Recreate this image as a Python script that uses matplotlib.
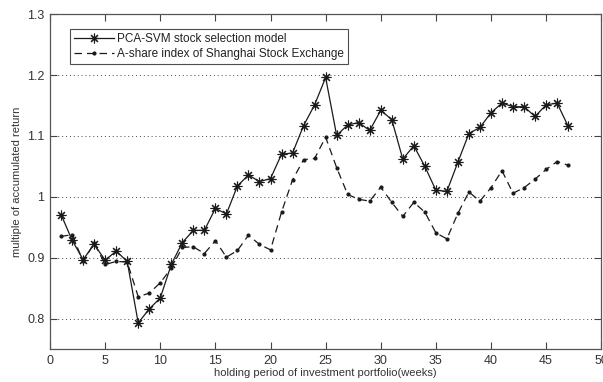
import matplotlib
matplotlib.use('Agg')
import matplotlib.pyplot as plt

weeks = list(range(1, 48))

pca_svm = [0.971, 0.929, 0.897, 0.922, 0.896, 0.911, 0.894, 0.793, 0.816, 0.834,
           0.889, 0.925, 0.945, 0.945, 0.981, 0.972, 1.018, 1.036, 1.025, 1.030,
           1.070, 1.072, 1.117, 1.151, 1.196, 1.101, 1.118, 1.122, 1.109, 1.142,
           1.127, 1.062, 1.084, 1.050, 1.011, 1.009, 1.057, 1.104, 1.114, 1.138,
           1.154, 1.148, 1.148, 1.132, 1.151, 1.154, 1.116]

sh_index = [0.935, 0.938, 0.894, 0.924, 0.889, 0.894, 0.893, 0.836, 0.842, 0.859,
            0.883, 0.917, 0.918, 0.907, 0.928, 0.901, 0.912, 0.937, 0.922, 0.913,
            0.975, 1.028, 1.061, 1.063, 1.098, 1.048, 1.004, 0.996, 0.993, 1.016,
            0.991, 0.968, 0.991, 0.975, 0.941, 0.931, 0.973, 1.008, 0.993, 1.015,
            1.043, 1.006, 1.015, 1.029, 1.045, 1.058, 1.052]

x_ticks = [0, 5, 10, 15, 20, 25, 30, 35, 40, 45, 50]
y_ticks = [0.8, 0.9, 1.0, 1.1, 1.2, 1.3]
y_tick_labels = ['0.8', '0.9', '1', '1.1', '1.2', '1.3']

plt.rcParams['font.family'] = ['Liberation Sans', 'DejaVu Sans']

fig = plt.figure(figsize=(6.03, 3.82), dpi=100)
ax = fig.add_axes([0.083, 0.086, 0.914, 0.877])

line_col = '#1a1a1a'
# matlab-style '*' marker: 8 spokes
ax.plot(weeks, pca_svm, color=line_col, linewidth=0.9, linestyle='-',
        marker=(8, 2, 0), markersize=7, markeredgewidth=0.8,
        label='PCA-SVM stock selection model')
ax.plot(weeks, sh_index, color=line_col, linewidth=0.9, linestyle=(0, (6, 4)),
        marker='.', markersize=4,
        label='A-share index of Shanghai Stock Exchange')

ax.set_xlim(0, 50)
ax.set_ylim(0.75, 1.3)
ax.set_xticks(x_ticks)
ax.set_yticks(y_ticks)
ax.set_yticklabels(y_tick_labels)

ax.yaxis.grid(True, linestyle=(0, (1, 3)), color='#444444', linewidth=0.7)
ax.tick_params(direction='in', top=True, right=True, length=5, width=0.8,
               labelsize=9, colors='#444444', labelcolor='#333333', pad=4)
for s in ax.spines.values():
    s.set_color('#555555')
    s.set_linewidth(0.9)

ax.set_xlabel('holding period of investment portfolio(weeks)', fontsize=8,
              color='#333333', labelpad=1)
ax.set_ylabel('multiple of accumulated return', fontsize=8, color='#333333',
              labelpad=4)

leg = ax.legend(loc='upper left', bbox_to_anchor=(0.036, 0.955), fontsize=8.5,
                frameon=True, fancybox=False, borderpad=0.35, labelspacing=0.25,
                handlelength=3.4, handletextpad=0.2, borderaxespad=0)
leg.get_frame().set_edgecolor('#222222')
leg.get_frame().set_linewidth(0.8)
for t in leg.get_texts():
    t.set_color('#222222')

plt.savefig('out.png', dpi=100)
plt.close(fig)
